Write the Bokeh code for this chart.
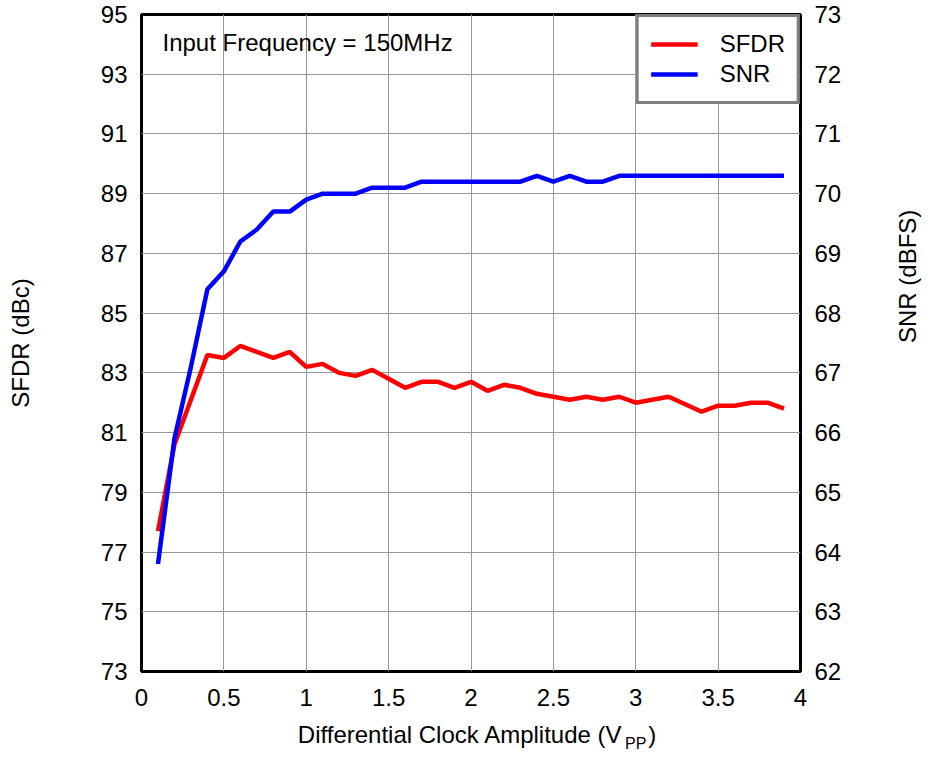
import math
from bokeh.plotting import figure
from bokeh.models import (Range1d, LinearAxis, FixedTicker, CustomJSTickFormatter, Label)
from bokeh.embed import file_html
from bokeh.resources import INLINE

# ---- data ----
amplitude = [0.1, 0.2, 0.3, 0.4, 0.5, 0.6, 0.7, 0.8, 0.9, 1.0,
             1.1, 1.2, 1.3, 1.4, 1.5, 1.6, 1.7, 1.8, 1.9, 2.0,
             2.1, 2.2, 2.3, 2.4, 2.5, 2.6, 2.7, 2.8, 2.9, 3.0,
             3.1, 3.2, 3.3, 3.4, 3.5, 3.6, 3.7, 3.8, 3.9]
sfdr = [77.7, 80.6, 82.1, 83.6, 83.5, 83.9, 83.7, 83.5, 83.7, 83.2,
        83.3, 83.0, 82.9, 83.1, 82.8, 82.5, 82.7, 82.7, 82.5, 82.7,
        82.4, 82.6, 82.5, 82.3, 82.2, 82.1, 82.2, 82.1, 82.2, 82.0,
        82.1, 82.2, 81.95, 81.7, 81.9, 81.9, 82.0, 82.0, 81.8]
snr = [63.8, 65.9, 67.1, 68.4, 68.7, 69.2, 69.4, 69.7, 69.7, 69.9,
       70.0, 70.0, 70.0, 70.1, 70.1, 70.1, 70.2, 70.2, 70.2, 70.2,
       70.2, 70.2, 70.2, 70.3, 70.2, 70.3, 70.2, 70.2, 70.3, 70.3,
       70.3, 70.3, 70.3, 70.3, 70.3, 70.3, 70.3, 70.3, 70.3]
x_ticks = [0, 0.5, 1, 1.5, 2, 2.5, 3, 3.5, 4]
sfdr_ticks = [73, 75, 77, 79, 81, 83, 85, 87, 89, 91, 93, 95]
snr_ticks = [62, 63, 64, 65, 66, 67, 68, 69, 70, 71, 72, 73]
annotation_text = "Input Frequency = 150MHz"
NB = "\u00a0"
x_label_main = NB * 2 + "Differential Clock Amplitude (V" + NB * 4 + ")"
x_label_sub = "PP"

FONT = "Liberation Sans"
FS = "24px"
SUB_POS = 3.0   # horizontal position of the subscript (layout, in x units)

p = figure(width=938, height=759, output_backend="svg", toolbar_location=None,
           x_range=Range1d(0, 4), y_range=Range1d(73, 95),
           min_border_left=141, min_border_right=138, min_border_top=14,
           min_border_bottom=88)
p.extra_y_ranges = {"snr": Range1d(62, 73)}

p.outline_line_color = "black"
p.outline_line_width = 3
p.background_fill_color = "white"
p.border_fill_color = "white"

fmt = CustomJSTickFormatter(code="return String(Math.round(tick*10)/10);")

p.xaxis.ticker = FixedTicker(ticks=x_ticks)
p.xaxis.formatter = fmt
p.xaxis.axis_label = x_label_main
p.yaxis.ticker = FixedTicker(ticks=sfdr_ticks)
p.yaxis.axis_label = "SFDR (dBc)"

right = LinearAxis(y_range_name="snr", ticker=FixedTicker(ticks=snr_ticks),
                   axis_label="SNR (dBFS)")
p.add_layout(right, "right")

for ax in p.axis:
    ax.axis_line_color = None
    ax.major_tick_line_color = None
    ax.minor_tick_line_color = None
    ax.major_tick_out = 0
    ax.minor_tick_out = 0
    ax.major_label_text_font = FONT
    ax.major_label_text_font_size = FS
    ax.major_label_text_color = "black"
    ax.major_label_standoff = 14
    ax.axis_label_text_font = FONT
    ax.axis_label_text_font_size = FS
    ax.axis_label_text_font_style = "normal"
    ax.axis_label_text_color = "black"
p.yaxis.axis_label_standoff = 64
right.axis_label_standoff = 63
right.axis_label_orientation = math.pi / 2
p.xaxis.major_label_standoff = 17
p.xaxis.axis_label_standoff = 12

# subscript "PP" of the x-axis label, drawn as the only tick label of a 2nd axis
sub_axis = LinearAxis(ticker=FixedTicker(ticks=[SUB_POS]),
                      formatter=CustomJSTickFormatter(code="return 'PP';"),
                      axis_line_color=None, major_tick_line_color=None,
                      minor_tick_line_color=None,
                      major_label_text_font=FONT, major_label_text_font_size="16px",
                      major_label_text_color="black", major_label_standoff=-22)
p.add_layout(sub_axis, "below")

p.xgrid.ticker = FixedTicker(ticks=x_ticks)
p.ygrid.ticker = FixedTicker(ticks=sfdr_ticks)
for g in (p.xgrid, p.ygrid):
    g.grid_line_color = "#999999"
    g.grid_line_width = 1

p.line(amplitude, sfdr, line_color="#ff0000", line_width=4.5, legend_label="SFDR")
p.line(amplitude, snr, line_color="#0000ff", line_width=4.5, legend_label="SNR",
       y_range_name="snr")

lg = p.legend[0]
lg.location = "top_right"
lg.margin = 0
lg.padding = 12
lg.spacing = 0
lg.border_line_color = "black"
lg.border_line_width = 3
lg.background_fill_color = "white"
lg.background_fill_alpha = 1
lg.label_text_font = FONT
lg.label_text_font_size = FS
lg.label_text_color = "black"
lg.glyph_width = 47
lg.glyph_height = 30
lg.label_height = 30
lg.label_width = 61
lg.label_standoff = 22

p.add_layout(Label(x=21, y=629, x_units="screen", y_units="screen",
                   text=annotation_text, text_font=FONT, text_font_size=FS,
                   text_color="black",
                   text_baseline="alphabetic", text_align="left"))

open("out.html", "w").write(file_html(p, INLINE))
